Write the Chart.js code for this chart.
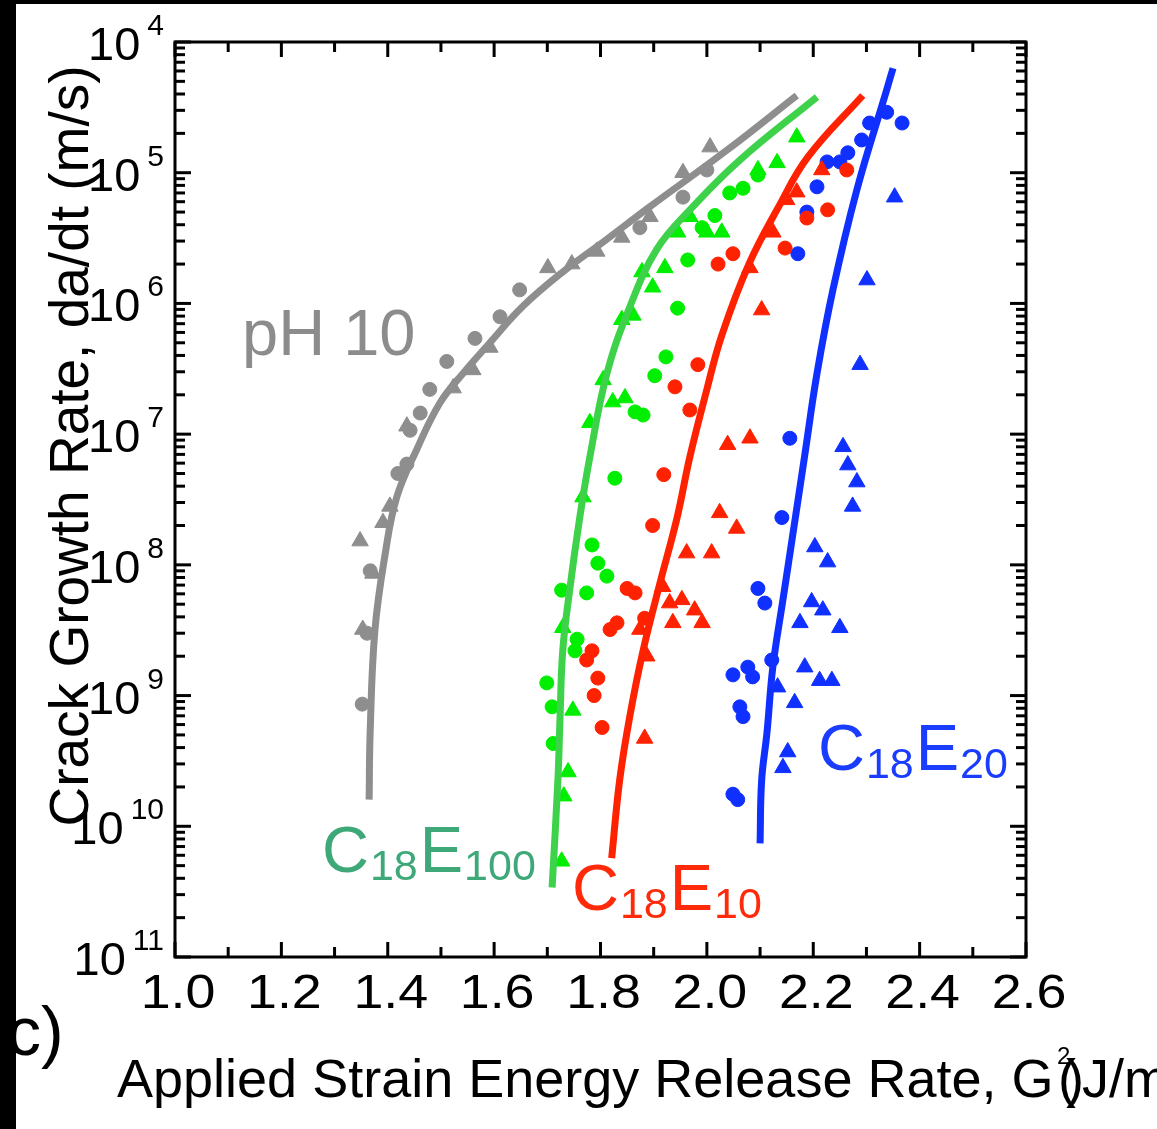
<!DOCTYPE html>
<html lang="en">
<head>
<meta charset="UTF-8">
<title>Crack Growth Rate vs Applied Strain Energy Release Rate</title>
<script src="https://cdn.jsdelivr.net/npm/chart.js"></script>
<style>
  html, body { margin: 0; padding: 0; background: #fff; overflow: hidden; }
  #wrap { position: relative; width: 1157px; height: 1129px; }
</style>
</head>
<body>
<div id="wrap"><canvas id="crackChart"></canvas></div>
<script>
// G (J/m2) vs da/dt (m/s)
const ph10Fit = [[1.365,1.6e-10],[1.367,5.4e-10],[1.376,3.2e-9],[1.395,1.2e-8],[1.417,3.3e-8],[1.455,7.7e-8],[1.498,1.73e-7],[1.541,2.9e-7],[1.592,5.0e-7],[1.654,9.5e-7],[1.729,1.74e-6],[1.812,3.1e-6],[1.893,5.5e-6],[2.038,1.49e-5],[2.169,3.9e-5]]
const e100Fit = [[1.709,3.4e-11],[1.720,2.3e-10],[1.724,6.9e-10],[1.729,2.2e-9],[1.742,6.4e-9],[1.761,2.3e-8],[1.780,6.7e-8],[1.812,2.9e-7],[1.855,9.4e-7],[1.906,2.6e-6],[1.968,5.2e-6],[2.062,1.25e-5],[2.207,3.8e-5]]
const e10Fit = [[1.821,5.7e-11],[1.836,2.25e-10],[1.855,6.9e-10],[1.880,2.2e-9],[1.912,7.3e-9],[1.944,2.3e-8],[1.968,6.7e-8],[2.000,2.2e-7],[2.028,5.7e-7],[2.079,2.0e-6],[2.135,5.5e-6],[2.190,1.32e-5],[2.293,3.9e-5]]
const e20Fit = [[2.100,7.4e-11],[2.103,2.25e-10],[2.113,5.2e-10],[2.124,1.65e-9],[2.143,5.4e-9],[2.162,1.75e-8],[2.184,6.9e-8],[2.207,2.9e-7],[2.237,1.27e-6],[2.282,7.4e-6],[2.338,4.3e-5],[2.350,6.3e-5]]

const ph10Circles = [[1.352,8.6e-10],[1.361,3.0e-9],[1.367,9.0e-9],[1.419,5.0e-8],[1.436,5.9e-8],[1.442,1.07e-7],[1.461,1.45e-7],[1.479,2.2e-7],[1.511,3.6e-7],[1.564,5.4e-7],[1.611,7.9e-7],[1.648,1.27e-6],[1.874,3.8e-6],[1.955,6.5e-6],[2.000,1.05e-5]]
const ph10Triangles = [[1.348,1.52e-8],[1.353,3.2e-9],[1.372,8.6e-9],[1.391,2.1e-8],[1.404,2.8e-8],[1.436,1.15e-7],[1.523,2.25e-7],[1.560,3.1e-7],[1.592,4.6e-7],[1.701,1.87e-6],[1.746,2.0e-6],[1.793,2.5e-6],[1.840,3.2e-6],[1.893,4.6e-6],[1.955,1.0e-5],[2.006,1.57e-5]]

const e100Circles = [[2.043,7.0e-6],[2.068,7.6e-6],[2.096,9.6e-6],[2.015,4.7e-6],[1.991,3.8e-6],[1.964,2.15e-6],[1.945,9.2e-7],[1.923,3.9e-7],[1.902,2.8e-7],[1.865,1.48e-7],[1.880,1.4e-7],[1.827,4.6e-8],[1.784,1.42e-8],[1.795,1.03e-8],[1.812,8.2e-9],[1.727,6.4e-9],[1.774,6.1e-9],[1.756,2.7e-9],[1.752,2.2e-9],[1.699,1.25e-9],[1.709,8.2e-10],[1.711,4.3e-10]]
const e100Triangles = [[2.169,1.87e-5],[2.132,1.19e-5],[2.096,1.05e-5],[1.968,4.6e-6],[2.000,3.5e-6],[2.028,3.5e-6],[1.945,3.5e-6],[1.921,1.87e-6],[1.878,1.74e-6],[1.898,1.33e-6],[1.861,8.1e-7],[1.840,7.5e-7],[1.805,2.6e-7],[1.823,1.76e-7],[1.846,1.89e-7],[1.780,1.22e-7],[1.767,3.3e-8],[1.729,3.3e-9],[1.748,7.7e-10],[1.739,2.6e-10],[1.731,1.7e-10],[1.727,5.4e-11]]

const e10Circles = [[2.263,1.05e-5],[2.227,5.2e-6],[2.188,4.5e-6],[2.147,2.65e-6],[2.049,2.4e-6],[2.021,2.0e-6],[1.983,3.4e-7],[1.940,2.3e-7],[1.968,1.53e-7],[1.919,4.9e-8],[1.898,2.0e-8],[1.850,6.6e-9],[1.865,6.1e-9],[1.883,3.9e-9],[1.831,3.6e-9],[1.818,3.2e-9],[1.784,2.2e-9],[1.774,1.87e-9],[1.795,1.36e-9],[1.788,1.0e-9],[1.803,5.7e-10]]
const e10Triangles = [[2.216,1.05e-5],[2.169,7.1e-6],[2.150,6.2e-6],[2.124,3.5e-6],[2.081,1.87e-6],[2.103,8.9e-7],[2.039,8.3e-8],[2.081,9.3e-8],[2.024,2.5e-8],[2.056,1.9e-8],[1.962,1.23e-8],[2.009,1.23e-8],[1.917,6.8e-9],[1.930,5.1e-9],[1.953,5.4e-9],[1.977,4.5e-9],[1.936,3.6e-9],[1.991,3.6e-9],[1.874,3.2e-9],[1.887,2.0e-9],[1.883,4.7e-10]]

const e20Circles = [[2.338,2.9e-5],[2.367,2.4e-5],[2.306,2.4e-5],[2.291,1.78e-5],[2.265,1.42e-5],[2.226,1.21e-5],[2.250,1.21e-5],[2.207,7.8e-6],[2.188,5.0e-6],[2.171,2.4e-6],[2.156,9.3e-8],[2.141,2.3e-8],[2.096,6.6e-9],[2.109,5.1e-9],[2.049,1.44e-9],[2.077,1.65e-9],[2.086,1.39e-9],[2.122,1.87e-9],[2.062,8.2e-10],[2.068,6.9e-10],[2.049,1.76e-10],[2.058,1.6e-10]]
const e20Triangles = [[2.353,6.5e-6],[2.301,1.51e-6],[2.288,3.4e-7],[2.256,8.0e-8],[2.265,5.8e-8],[2.282,4.3e-8],[2.274,2.8e-8],[2.203,1.37e-8],[2.227,1.05e-8],[2.197,5.2e-9],[2.218,4.5e-9],[2.175,3.6e-9],[2.250,3.3e-9],[2.184,1.65e-9],[2.212,1.3e-9],[2.235,1.3e-9],[2.133,1.16e-9],[2.165,8.8e-10],[2.152,3.7e-10],[2.143,2.8e-10]]

const xTickValues = [1.0, 1.2, 1.4, 1.6, 1.8, 2.0, 2.2, 2.4, 2.6]
const xTickLabels = ['1.0', '1.2', '1.4', '1.6', '1.8', '2.0', '2.2', '2.4', '2.6']
const xMinorValues = [1.1, 1.3, 1.5, 1.7, 1.9, 2.1, 2.3, 2.5]
const yTickValues = [1e-4, 1e-5, 1e-6, 1e-7, 1e-8, 1e-9, 1e-10, 1e-11]
const yTickExponents = ['4', '5', '6', '7', '8', '9', '10', '11']

const FONT = '"Liberation Sans", Arial, Helvetica, sans-serif'
const GRAY = '#8e8e8e', GREEN_LINE = '#3dd24a', GREEN = '#00ee00', RED = '#ff2200', BLUE = '#0f30ff'

const pts = arr => arr.map(([x, y]) => ({ x, y }))

const fit = (data, color) => ({
  data: pts(data), showLine: true, borderColor: color, borderWidth: 7,
  pointRadius: 0, tension: 0.4, fill: false
})
const marks = (data, color, style) => ({
  data: pts(data), showLine: false, pointStyle: style,
  pointRadius: style === 'triangle' ? 9.5 : 7,
  backgroundColor: color, borderColor: color, borderWidth: 1
})

function txt(ctx, s, x, y, size, color, align = 'left', sx = 1) {
  ctx.save()
  ctx.translate(x, y)
  ctx.scale(sx, 1)
  ctx.font = `${size}px ${FONT}`
  ctx.fillStyle = color
  ctx.textAlign = align
  ctx.textBaseline = 'alphabetic'
  ctx.fillText(s, 0, 0)
  const w = ctx.measureText(s).width * sx
  ctx.restore()
  return w
}

// big letters with subscripts, e.g. C18E100
function chem(ctx, x, y, color, parts) {
  parts.forEach(([s, sub]) => {
    x += sub ? txt(ctx, s, x, y + 8, 43, color) + 2 : txt(ctx, s, x, y, 65, color) + 1
  })
}

const decorations = {
  id: 'decorations',
  beforeDraw(chart) {
    const ctx = chart.ctx
    ctx.save()
    ctx.fillStyle = '#fff'
    ctx.fillRect(0, 0, chart.width, chart.height)
    ctx.restore()
  },
  afterDraw(chart) {
    const { ctx, chartArea: a, scales: { x, y } } = chart
    ctx.save()
    ctx.strokeStyle = '#000'
    ctx.lineWidth = 3
    ctx.strokeRect(a.left, a.top, a.right - a.left, a.bottom - a.top)

    const line = (x1, y1, x2, y2) => { ctx.beginPath(); ctx.moveTo(x1, y1); ctx.lineTo(x2, y2); ctx.stroke() }
    const xt = (v, len) => {
      const px = x.getPixelForValue(v)
      line(px, a.bottom, px, a.bottom - len)
      line(px, a.top, px, a.top + len)
    }
    const yt = (v, len) => {
      const py = y.getPixelForValue(v)
      line(a.left, py, a.left + len, py)
      line(a.right, py, a.right - len, py)
    }
    xTickValues.forEach(v => xt(v, 15))
    xMinorValues.forEach(v => xt(v, 10))
    yTickValues.forEach(v => yt(v, 16))
    yTickValues.slice(1).forEach(v => {
      for (let m = 2; m <= 9; m++) yt(v * m, 10)
    })

    // tick labels
    xTickValues.forEach((v, i) => {
      txt(ctx, xTickLabels[i], x.getPixelForValue(v) + 3, a.bottom + 51, 48, '#000', 'center', 1.12)
    })
    yTickValues.forEach((v, i) => {
      const py = y.getPixelForValue(v) + 18
      const w = txt(ctx, yTickExponents[i], 164, py - 25, 30, '#000', 'right')
      txt(ctx, '10', 164 - w - 7, py, 47, '#000', 'right')
    })

    // axis titles
    ctx.save()
    ctx.translate(88, 446)
    ctx.rotate(-Math.PI / 2)
    txt(ctx, 'Crack Growth Rate, da/dt (m/s)', 0, 0, 55, '#000', 'center')
    ctx.restore()
    txt(ctx, 'Applied Strain Energy Release Rate, G', 117, 1097, 54, '#000')
    txt(ctx, '(', 1058, 1097, 54, '#000')
    txt(ctx, ')', 1066, 1097, 54, '#000')
    txt(ctx, '2', 1057, 1064, 24, '#000')
    txt(ctx, 'J/m', 1082, 1097, 54, '#000')
    txt(ctx, 'c)', 7, 1055, 68, '#000')

    // series labels
    txt(ctx, 'pH 10', 242, 355, 65, '#8c8c8c')
    chem(ctx, 322, 872, '#3fa878', [['C'], ['18', 1], ['E'], ['100', 1]])
    chem(ctx, 572, 910, '#ff2a0a', [['C'], ['18', 1], ['E'], ['10', 1]])
    chem(ctx, 818, 770, '#1a3cff', [['C'], ['18', 1], ['E'], ['20', 1]])

    // black border of the scan
    ctx.fillStyle = '#000'
    ctx.fillRect(0, 0, 16, chart.height)
    ctx.fillRect(0, 0, chart.width, 4)
    ctx.restore()
  }
}

new Chart(document.getElementById('crackChart'), {
  type: 'scatter',
  data: {
    datasets: [
      fit(ph10Fit, GRAY),
      fit(e100Fit, GREEN_LINE),
      fit(e10Fit, RED),
      fit(e20Fit, BLUE),
      marks(ph10Circles, GRAY, 'circle'),
      marks(ph10Triangles, GRAY, 'triangle'),
      marks(e100Circles, GREEN, 'circle'),
      marks(e100Triangles, GREEN, 'triangle'),
      marks(e10Circles, RED, 'circle'),
      marks(e10Triangles, RED, 'triangle'),
      marks(e20Circles, BLUE, 'circle'),
      marks(e20Triangles, BLUE, 'triangle')
    ]
  },
  options: {
    responsive: true,
    maintainAspectRatio: false,
    devicePixelRatio: 1,
    animation: false,
    layout: { padding: { left: 175, top: 42, right: 131, bottom: 172 } },
    scales: {
      x: { type: 'linear', min: 1.0, max: 2.6, display: false },
      y: { type: 'logarithmic', min: 1e-11, max: 1e-4, display: false }
    },
    plugins: { legend: { display: false }, tooltip: { enabled: false } }
  },
  plugins: [decorations]
})
</script>
</body>
</html>
